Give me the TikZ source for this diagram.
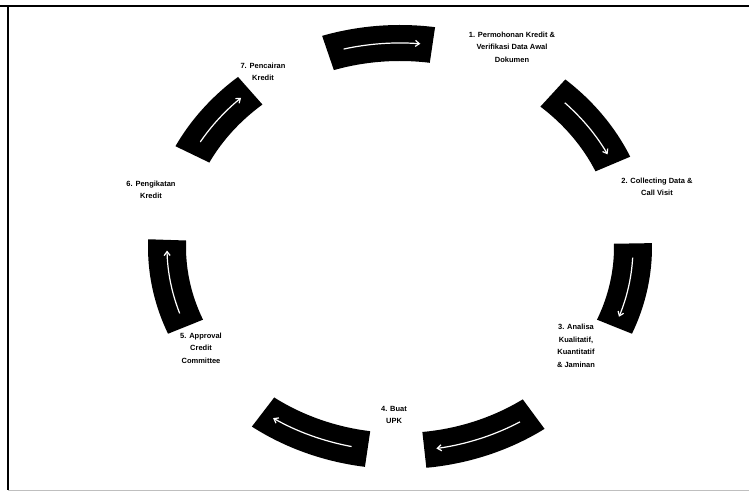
\documentclass[tikz,border=0pt]{standalone}
\usepackage{fontspec}
\setmainfont{Liberation Sans}
\usetikzlibrary{arrows.meta}

\begin{document}
\begin{tikzpicture}[x=1pt,y=1pt,
    every label text/.style={font=\fontsize{7.5}{12.5}\selectfont\bfseries, align=center, inner sep=1pt},
    step band/.style={fill=black},
    step arrow/.style={white, line width=1.2pt, -{Straight Barb[length=4pt,width=6pt]}}]
\useasboundingbox (0,0) rectangle (749,493);
\draw[line width=1.5pt] (0,487) -- (749,487);
\draw[line width=1.2pt] (8,487) -- (8,3);
\draw[black!25, line width=0.8pt] (8,3) -- (749,3);

\begin{scope}[shift={(400,246)}]
\coordinate (hub) at (0,0);
\foreach \s/\e in {108/82, 49/24, 1/-23, -55/-84, -98/-126, -157/-182, 153/130} {
    \fill[step band] (\s:252 and 222) arc[start angle=\s, end angle=\e, x radius=252, y radius=222]
        -- (\e:214 and 186) arc[start angle=\e, end angle=\s, x radius=214, y radius=186] -- cycle;
    \draw[step arrow] ({\s-4}:233 and 204) arc[start angle=\s-4, end angle=\e+3, x radius=233, y radius=204];
}
\end{scope}

\node[every label text] (permohonan) at (512,446) {1. Permohonan Kredit \&\\Verifikasi Data Awal\\Dokumen};
\node[every label text] (collecting) at (657,306) {2. Collecting Data \&\\Call Visit};
\node[every label text] (analisa) at (576,147) {3. Analisa\\Kualitatif,\\Kuantitatif\\\& Jaminan};
\node[every label text] (upk) at (394,78) {4. Buat\\UPK};
\node[every label text] (approval) at (201,145) {5. Approval\\Credit\\Committee};
\node[every label text] (pengikatan) at (151,303) {6. Pengikatan\\Kredit};
\node[every label text] (pencairan) at (263,421) {7. Pencairan\\Kredit};
\end{tikzpicture}
\end{document}
